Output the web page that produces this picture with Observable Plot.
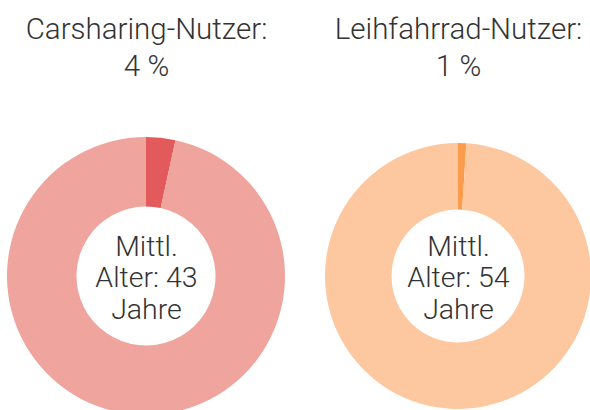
<!DOCTYPE html>
<html>
<head>
<meta charset="utf-8">
<script src="https://cdn.jsdelivr.net/npm/d3@7"></script>
<script src="https://cdn.jsdelivr.net/npm/@observablehq/plot@0.6"></script>
<style>
  html, body { margin: 0; padding: 0; background: #fff; }
  #chart svg { display: block; }
</style>
</head>
<body>
<div id="chart"></div>
<script>
// ---- data ----
const charts = ["Carsharing-Nutzer", "Leihfahrrad-Nutzer"];
const shareLabels = [4, 1];          // percent shown in titles
const shareValues = [3.4, 1];        // slice size (%)
const meanAges = [43, 54];

// ---- styles / layout ----
const colorsDark = ["#E35A5C", "#F99D4D"];
const colorsLight = ["#EFA59E", "#FDC89F"];
const outerRadii = [139, 133];
const innerRatio = 0.5;
const fontFamily = "Roboto, 'Helvetica Neue', 'Liberation Sans', sans-serif";

// slices built from the data through d3.pie
const slices = charts.flatMap((c, i) => {
  const parts = [
    {part: "share", value: shareValues[i], fill: colorsDark[i]},
    {part: "rest", value: 100 - shareValues[i], fill: colorsLight[i]}
  ];
  const arcs = d3.pie().sort(null).value(d => d.value)(parts);
  return arcs.map(a => ({chart: c, idx: i, startAngle: a.startAngle, endAngle: a.endAngle, fill: a.data.fill}));
});

const titles = charts.map((c, i) => ({chart: c, text: `${c}:\n${shareLabels[i]} %`}));
const centers = charts.map((c, i) => ({chart: c, text: `Mittl.\nAlter: ${meanAges[i]}\nJahre`}));

function donut(data) {
  return Plot.dot(data, {
    x: "chart",
    y: () => "donut",
    render(index, scales, values) {
      const g = d3.create("svg:g");
      for (const i of index) {
        const d = data[i];
        const R = outerRadii[d.idx];
        const arc = d3.arc().innerRadius(R * innerRatio).outerRadius(R)
          .startAngle(d.startAngle).endAngle(d.endAngle);
        g.append("path")
          .attr("transform", `translate(${values.x[i]},${values.y[i]})`)
          .attr("d", arc())
          .attr("fill", d.fill);
      }
      return g.node();
    }
  });
}

const chart = Plot.plot({
  width: 590,
  height: 410,
  marginLeft: 146,
  marginRight: 132,
  marginTop: 276,
  marginBottom: 134,
  x: {type: "point", domain: charts, padding: 0, axis: null},
  y: {type: "point", domain: ["donut"], axis: null},
  style: {fontFamily, background: "#fff"},
  marks: [
    donut(slices),
    Plot.text(titles, {
      x: "chart", y: () => "donut", text: "text",
      fontSize: 29.5, fontWeight: 300, fill: "#333",
      lineAnchor: "middle", lineHeight: 1.265, dy: -231
    }),
    Plot.text(centers, {
      x: "chart", y: () => "donut", text: "text",
      fontSize: 28.5, fontWeight: 300, fill: "#333",
      lineAnchor: "middle", lineHeight: 1.105, dy: 0.7
    })
  ]
});

document.getElementById("chart").appendChild(chart);
</script>
</body>
</html>
